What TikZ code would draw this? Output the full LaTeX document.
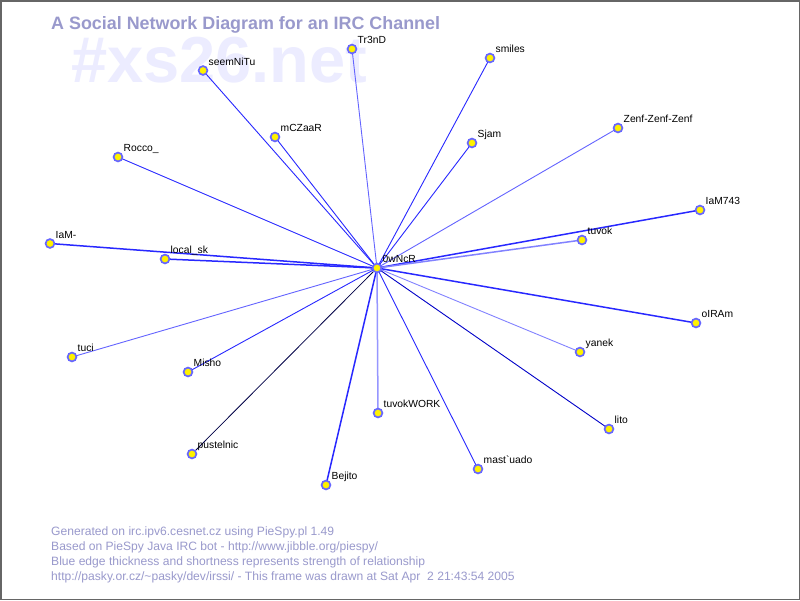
\documentclass[tikz,border=0pt]{standalone}
\usepackage{fontspec}
\setmainfont{Liberation Sans}
\newfontfamily\lblfont{Liberation Sans}
\pgfdeclarelayer{bg}
\pgfdeclarelayer{edges}
\pgfsetlayers{bg,edges,main}
\definecolor{ttl}{RGB}{153,153,204}
\definecolor{wmark}{RGB}{236,236,255}
\definecolor{ring}{RGB}{102,102,255}
\definecolor{eblue}{RGB}{40,40,255}
\definecolor{elight}{RGB}{100,100,255}
\definecolor{elighter}{RGB}{130,130,255}
\definecolor{epale}{RGB}{150,150,255}
\definecolor{edark}{RGB}{0,0,200}
\definecolor{enavy}{RGB}{0,0,70}
\tikzset{
  pnode/.style={circle,draw=ring,line width=1.7pt,fill=yellow,minimum size=8.8pt,inner sep=0pt,outer sep=0pt},
  lbl/.style={anchor=base west,inner sep=0pt,font=\lblfont\fontsize{10.3}{12}\selectfont,text=black},
  edge/.style={draw=eblue,line width=0.9pt},
  edgelt/.style={draw=elight,line width=0.9pt},
  edgelt2/.style={draw=elighter,line width=0.9pt},
  edgethick/.style={draw=eblue,line width=1.5pt},
  edgethicklt/.style={draw=elighter,line width=1.5pt},
  edgepale/.style={draw=epale,line width=1.5pt},
  edgedark/.style={draw=edark,line width=0.9pt},
  edgenavy/.style={draw=enavy,line width=0.8pt},
  foot/.style={anchor=base west,inner sep=0pt,font=\fontsize{12.1}{14}\selectfont,text=ttl},
}
\newcommand\person[4]{%
  \node[pnode] (#1) at (#2,#3) {};
  \node[lbl] (#1-l) at ([xshift=5.5pt,yshift=5.5pt]#1.center) {#4};
}
\begin{document}
\begin{tikzpicture}[x=1pt,y=-1pt]
\begin{pgfonlayer}{bg}
\path[fill=white,draw=black!60,line width=1.5pt] (0.75,0.75) rectangle (799.25,599.25);
\node[anchor=base west,inner sep=0pt,font=\bfseries\fontsize{65}{70}\selectfont,text=wmark] (wm) at (71,82) {\#xs26.net};
\end{pgfonlayer}
\node[anchor=base west,inner sep=0pt,font=\bfseries\fontsize{17.9}{20}\selectfont,text=ttl] (title) at (51,29) {A Social Network Diagram for an IRC Channel};

\person{c}{377}{268}{0wNcR}
\person{tr3nd}{352}{49}{Tr3nD}
\person{smiles}{490}{58}{smiles}
\person{seem}{203}{70.5}{seemNiTu}
\person{mcz}{275}{137}{mCZaaR}
\person{sjam}{472}{143}{Sjam}
\person{zenf}{618}{128}{Zenf-Zenf-Zenf}
\person{rocco}{118}{157}{Rocco\_}
\person{iam743}{700}{210}{IaM743}
\person{tuvok}{582}{240}{tuvok}
\person{iamm}{50}{243.5}{IaM-}
\person{local}{165}{259}{local\_sk}
\person{oiram}{696}{323}{oIRAm}
\person{yanek}{580}{352}{yanek}
\person{tuci}{72}{357}{tuci}
\person{misho}{188}{372}{Misho}
\person{twork}{378}{413}{tuvokWORK}
\person{lito}{609}{429}{lito}
\person{pust}{192}{454}{pustelnic}
\person{mast}{478}{469}{mast\string`uado}
\person{bejito}{326}{485}{Bejito}

\begin{pgfonlayer}{edges}
\path[edgelt] (c.center) -- (tr3nd.center);
\path[edge] (c.center) -- (smiles.center);
\path[edge] (c.center) -- (seem.center);
\path[edge] (c.center) -- (mcz.center);
\path[edge] (c.center) -- (sjam.center);
\path[edgelt] (c.center) -- (zenf.center);
\path[edge] (c.center) -- (rocco.center);
\path[edgethick] (c.center) -- (iam743.center);
\path[edgethicklt] (c.center) -- (tuvok.center);
\path[edgethick] (c.center) -- (iamm.center);
\path[edgethick] (c.center) -- (local.center);
\path[edgethick] (c.center) -- (oiram.center);
\path[edgelt2] (c.center) -- (yanek.center);
\path[edgelt] (c.center) -- (tuci.center);
\path[edge] (c.center) -- (misho.center);
\path[edgepale] (c.center) -- (twork.center);
\path[edgedark] (c.center) -- (lito.center);
\path[edgenavy] (c.center) -- (pust.center);
\path[edge] (c.center) -- (mast.center);
\path[edgethick] (c.center) -- (bejito.center);
\end{pgfonlayer}

\node[foot] (f1) at (51,535) {Generated on irc.ipv6.cesnet.cz using PieSpy.pl 1.49};
\node[foot] (f2) at (51,550) {Based on PieSpy Java IRC bot - http://www.jibble.org/piespy/};
\node[foot] (f3) at (51,565) {Blue edge thickness and shortness represents strength of relationship};
\node[foot] (f4) at (51,580) {http://pasky.or.cz/\string~pasky/dev/irssi/ - This frame was drawn at Sat Apr\ \ 2 21:43:54 2005};
\end{tikzpicture}
\end{document}
